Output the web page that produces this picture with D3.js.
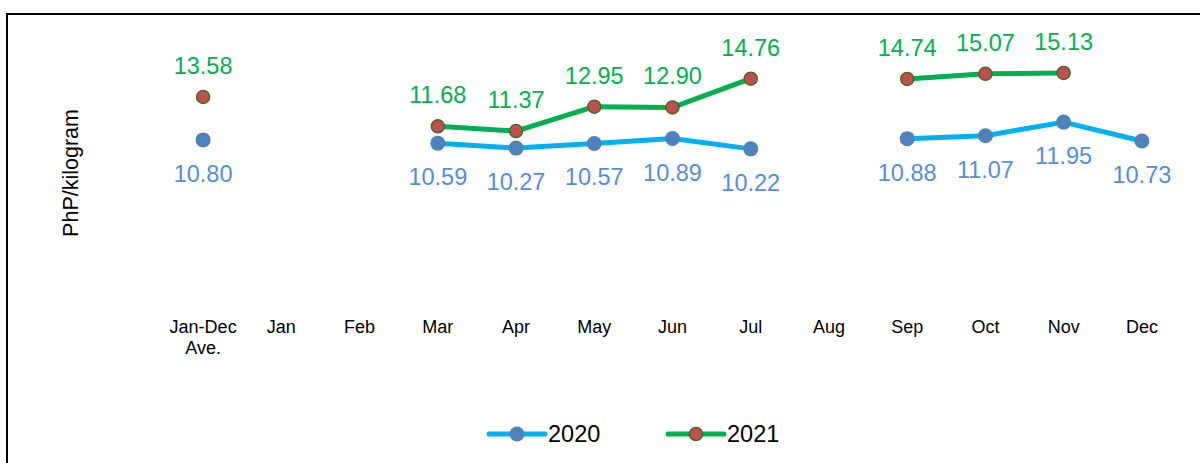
<!DOCTYPE html>
<html><head><meta charset="utf-8">
<script src="https://cdn.jsdelivr.net/npm/d3@7"></script>
<style>body{margin:0;background:#fff}svg{display:block}text{font-family:"Liberation Sans",Arial,sans-serif}</style>
</head><body><svg id="c" width="1200" height="463"></svg>
<script>
const categories = ["Jan-Dec Ave.","Jan","Feb","Mar","Apr","May","Jun","Jul","Aug","Sep","Oct","Nov","Dec"];
const values2020 = [10.80,null,null,10.59,10.27,10.57,10.89,10.22,null,10.88,11.07,11.95,10.73];
const values2021 = [13.58,null,null,11.68,11.37,12.95,12.90,14.76,null,14.74,15.07,15.13,null];
const seriesNames = ["2020","2021"];

const svg = d3.select("#c");
svg.append("rect").attr("x",7).attr("y",14).attr("width",1200).attr("height",460)
  .attr("fill","none").attr("stroke","#000").attr("stroke-width",2);

const x = d3.scaleBand().domain(categories).range([164,1181]);
const y = d3.scaleLinear().domain([0,18]).range([307,28.5]);
const cx = c => x(c)+x.bandwidth()/2;

// axis labels
const ax = svg.append("g").attr("transform","translate(0,307)")
  .call(d3.axisBottom(x).tickSize(0).tickPadding(0));
ax.select(".domain").remove();
ax.selectAll(".tick text").remove();
ax.selectAll(".tick").each(function(d){
  const t = d3.select(this).append("text").attr("fill","#000").attr("font-size",18)
    .attr("text-anchor","middle").attr("font-family","Liberation Sans, Arial, sans-serif");
  if(d==="Jan-Dec Ave."){
    t.append("tspan").attr("x",0).attr("y",26).text("Jan-Dec");
    t.append("tspan").attr("x",0).attr("y",47).text("Ave.");
  } else t.attr("y",26).text(d);
});

svg.append("text").attr("transform","translate(78,173) rotate(-90)")
  .attr("text-anchor","middle").attr("font-size",21.5).attr("fill","#000").text("PhP/kilogram");

const series = [
  {name:seriesNames[0], vals:values2020, line:"#00B0F0", fill:"#4F81BD", stroke:"#4F81BD", lab:"#558ED5", dy:42},
  {name:seriesNames[1], vals:values2021, line:"#00B050", fill:"#C0504D", stroke:"#4F6228", lab:"#00B050", dy:-23}
];
const line = d3.line().defined(d=>d.v!=null).x(d=>cx(d.c)).y(d=>y(d.v));
series.forEach(s=>{
  const data = categories.map((c,i)=>({c, v:s.vals[i]}));
  svg.append("path").datum(data).attr("d",line).attr("fill","none")
    .attr("stroke",s.line).attr("stroke-width",5).attr("stroke-linejoin","round");
});
series.forEach(s=>{
  const data = categories.map((c,i)=>({c, v:s.vals[i]})).filter(d=>d.v!=null);
  svg.append("g").selectAll("circle").data(data).join("circle")
    .attr("cx",d=>cx(d.c)).attr("cy",d=>y(d.v)).attr("r",s.name==="2020"?7.5:6.5)
    .attr("fill",s.fill).attr("stroke",s.stroke).attr("stroke-width",s.name==="2020"?0:1.5);
  svg.append("g").selectAll("text").data(data).join("text")
    .attr("x",d=>cx(d.c)).attr("y",d=>y(d.v)+s.dy).attr("text-anchor","middle")
    .attr("font-size",23.5).attr("fill",s.lab).text(d=>d.v.toFixed(2));
});

// legend
const leg = [{s:series[0],x:489},{s:series[1],x:668}];
leg.forEach(l=>{
  const g = svg.append("g").attr("transform",`translate(${l.x},434)`);
  g.append("line").attr("x1",0).attr("x2",56).attr("stroke",l.s.line).attr("stroke-width",5).attr("stroke-linecap","round");
  g.append("circle").attr("cx",28).attr("r",l.s.name==="2020"?7.5:6.5).attr("fill",l.s.fill)
    .attr("stroke",l.s.stroke).attr("stroke-width",l.s.name==="2020"?0:1.5);
  g.append("text").attr("x",59).attr("y",8).attr("font-size",23.5).attr("fill","#000").text(l.s.name);
});
</script></body></html>
